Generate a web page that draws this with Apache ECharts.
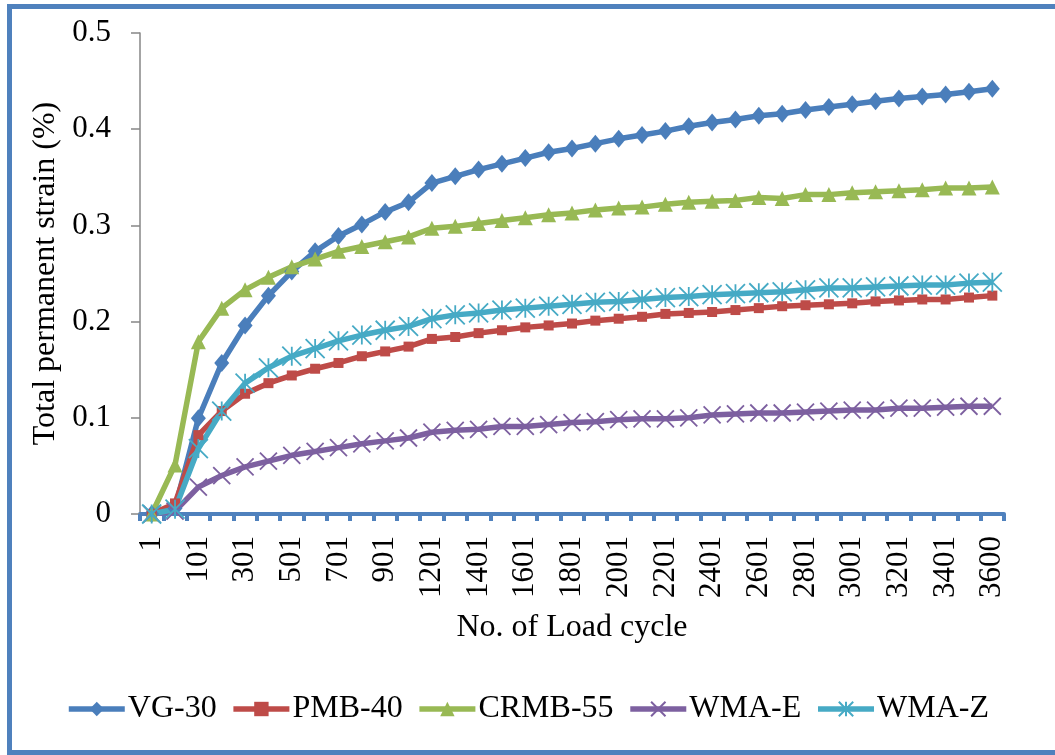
<!DOCTYPE html>
<html>
<head>
<meta charset="utf-8">
<script src="https://cdn.jsdelivr.net/npm/echarts@6/dist/echarts.min.js"></script>
<style>
html,body{margin:0;padding:0;background:#fff;}
#chart{width:1055px;height:755px;}
</style>
</head>
<body>
<div id="chart"></div>
<script>
var cycles = ["1","51","101","201","301","401","501","601","701","801","901","1001","1201","1301","1401","1501","1601","1701","1801","1901","2001","2101","2201","2301","2401","2501","2601","2701","2801","2901","3001","3101","3201","3301","3401","3501","3600"];
var vg30 = [0,0.006,0.0995,0.157,0.196,0.227,0.252,0.273,0.289,0.301,0.314,0.324,0.344,0.351,0.358,0.364,0.370,0.376,0.380,0.385,0.390,0.394,0.398,0.403,0.407,0.410,0.414,0.416,0.420,0.423,0.426,0.429,0.432,0.434,0.436,0.439,0.442];
var pmb40 = [0,0.011,0.082,0.107,0.125,0.136,0.144,0.151,0.157,0.164,0.169,0.174,0.182,0.184,0.188,0.191,0.194,0.196,0.198,0.201,0.203,0.205,0.208,0.209,0.210,0.212,0.214,0.216,0.217,0.218,0.219,0.221,0.222,0.223,0.223,0.225,0.227];
var crmb55 = [0,0.051,0.179,0.214,0.233,0.246,0.257,0.265,0.273,0.278,0.283,0.288,0.297,0.299,0.302,0.305,0.308,0.311,0.313,0.316,0.318,0.319,0.322,0.324,0.325,0.326,0.329,0.328,0.332,0.332,0.334,0.335,0.336,0.337,0.339,0.339,0.340];
var wmaE = [0,0.003,0.028,0.040,0.049,0.055,0.061,0.065,0.069,0.073,0.076,0.079,0.085,0.087,0.088,0.091,0.091,0.093,0.095,0.096,0.098,0.099,0.099,0.100,0.103,0.104,0.105,0.105,0.106,0.107,0.108,0.108,0.110,0.110,0.111,0.112,0.112];
var wmaZ = [0,0.005,0.068,0.107,0.136,0.152,0.164,0.172,0.180,0.186,0.191,0.195,0.203,0.207,0.209,0.212,0.214,0.216,0.218,0.220,0.221,0.223,0.225,0.226,0.228,0.229,0.230,0.231,0.233,0.235,0.235,0.236,0.237,0.238,0.238,0.240,0.241];
var seriesNames = ["VG-30","PMB-40","CRMB-55","WMA-E","WMA-Z"];
var yTicks = [0,0.1,0.2,0.3,0.4,0.5];

var FONT = "Liberation Serif";
var colors = ["#4A7EBB","#BE4B48","#98B954","#7D60A0","#46AAC5"];
var X_PATH = "path://M0,0L10,10M10,0L0,10";
var AST_PATH = "path://M0,0L10,10M10,0L0,10M5,0L5,10";

function mk(name, data, color, symbol, size, strokeOnly){
  var it = strokeOnly ? {color:"none", borderColor:color, borderWidth:1.8} : {color:color};
  return {
    name:name, type:"line", data:data, symbol:symbol, symbolSize:size,
    showAllSymbol:true, lineStyle:{color:color, width:5.5}, itemStyle:it,
    emphasis:{disabled:true}, animation:false
  };
}

var chart = echarts.init(document.getElementById("chart"), null, {renderer:"canvas"});
chart.setOption({
  backgroundColor:"#fff",
  animation:false,
  graphic:[{type:"rect", shape:{x:9.5,y:6.5,width:1100,height:746}, style:{fill:"none", stroke:"#4F81BD", lineWidth:5}, silent:true}],
  grid:{left:140, right:51, top:33, bottom:241, containLabel:false},
  legend:{
    bottom:25, left:"center", itemWidth:56, itemHeight:18, itemGap:14,
    lineStyle:{width:5.5},
    textStyle:{fontFamily:FONT, fontSize:32, color:"#000", padding:[0,0,0,-2]},
    data:seriesNames
  },
  xAxis:{
    type:"category", data:cycles, boundaryGap:true,
    name:"No. of Load cycle", nameLocation:"middle", nameGap:98,
    nameTextStyle:{fontFamily:FONT, fontSize:32, color:"#000"},
    axisLine:{lineStyle:{color:"#4F81BD", width:4}},
    axisTick:{show:true, interval:0, length:7, lineStyle:{color:"#4F81BD", width:4}},
    axisLabel:{interval:1, rotate:90, margin:22, fontFamily:FONT, fontSize:31, color:"#000"},
    splitLine:{show:false}
  },
  yAxis:{
    type:"value", min:yTicks[0], max:yTicks[yTicks.length-1], interval:0.1,
    name:"Total permanent strain (%)", nameLocation:"middle", nameGap:77,
    nameTextStyle:{fontFamily:FONT, fontSize:32, color:"#000"},
    axisLine:{show:true, lineStyle:{color:"#868686", width:1.5}},
    axisTick:{show:true, length:9, lineStyle:{color:"#868686", width:1.5}},
    axisLabel:{margin:29, fontFamily:FONT, fontSize:31, color:"#000"},
    splitLine:{show:false}
  },
  series:[
    mk(seriesNames[0], vg30, colors[0], "diamond", [15,18], false),
    mk(seriesNames[1], pmb40, colors[1], "rect", 10, false),
    mk(seriesNames[2], crmb55, colors[2], "triangle", 15, false),
    mk(seriesNames[3], wmaE, colors[3], X_PATH, 17, true),
    mk(seriesNames[4], wmaZ, colors[4], AST_PATH, 19, true)
  ]
});
</script>
</body>
</html>
